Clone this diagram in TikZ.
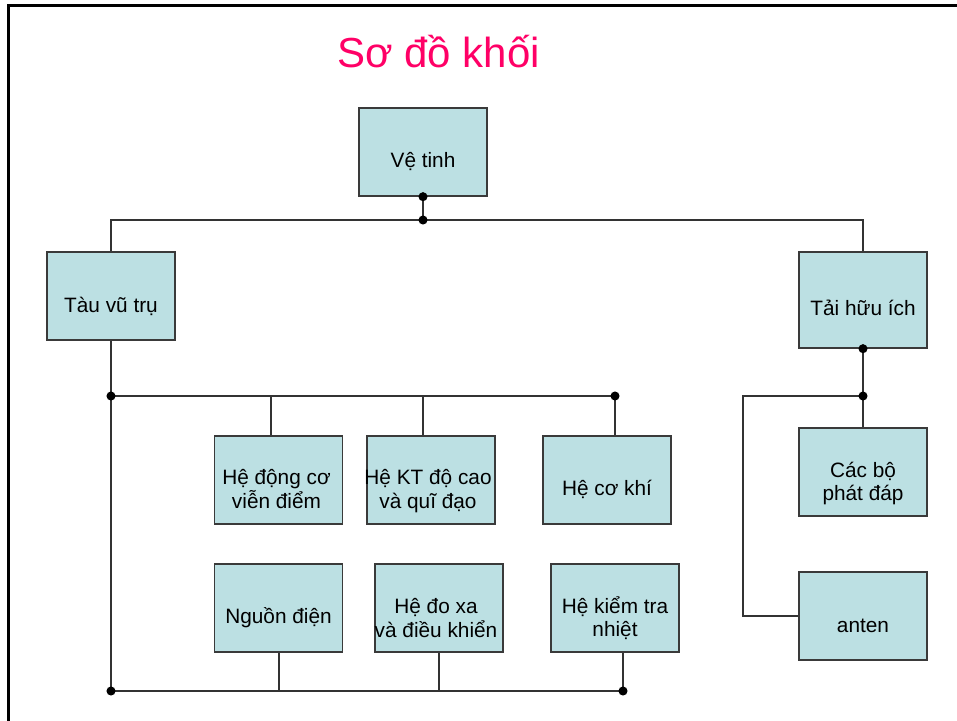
\documentclass[tikz,border=0pt]{standalone}
\usepackage{fontspec}
\setmainfont{Liberation Sans}
\usetikzlibrary{calc}
\definecolor{boxfill}{HTML}{BCE0E3}
\definecolor{boxline}{HTML}{3A3A3A}
\definecolor{titlecol}{HTML}{FF0066}
\definecolor{wirecol}{HTML}{333333}
\begin{document}
\begin{tikzpicture}[x=0.75pt,y=-0.75pt,
  blk/.style={draw=boxline, line width=1pt, fill=boxfill, minimum width=96pt, minimum height=66pt, inner sep=0pt},
  blktall/.style={blk, minimum height=72pt},
  lbl/.style={font=\fontsize{15.6}{19}\selectfont, anchor=base, inner sep=0pt},
  wire/.style={draw=wirecol, line width=0.8pt},
  dot/.style={circle, fill=black, inner sep=0pt, minimum size=6.8pt}]
\useasboundingbox (0,0) rectangle (957,721);
\draw[line width=1.9pt] (8.5,740) -- (8.5,5.5) -- (980,5.5);

% title
\node[font=\fontsize{31.5}{36}\selectfont, text=titlecol, anchor=base, inner sep=0pt] (title) at (438.5,67) {Sơ đồ khối};

% boxes
\node[blk] (vt) at (423,152) {};
\node[blk] (tau) at (111,296) {};
\node[blktall] (tai) at (863,300) {};
\node[blk] (dc) at (278.5,480) {};
\node[blk] (kt) at (431,480) {};
\node[blk] (ck) at (607,480) {};
\node[blk] (ng) at (278.5,608) {};
\node[blk] (dx) at (439,608) {};
\node[blk] (kn) at (615,608) {};
\node[blk] (cb) at (863,472) {};
\node[blk] (an) at (863,616) {};

% labels
\node[lbl] (vtl) at ($(vt.center)+(0,15)$) {Vệ tinh};
\node[lbl] (taul) at ($(tau.center)+(0,16)$) {Tàu vũ trụ};
\node[lbl] (tail) at ($(tai.center)+(0,15)$) {Tải hữu ích};
\node[lbl] (dcl1) at ($(dc.center)+(-2,4)$) {Hệ động cơ};
\node[lbl] (dcl2) at ($(dc.center)+(-2,28)$) {viễn điểm};
\node[lbl] (ktl1) at ($(kt.center)+(-3,4)$) {Hệ KT độ cao};
\node[lbl] (ktl2) at ($(kt.center)+(-3,28)$) {và quĩ đạo};
\node[lbl] (ckl) at ($(ck.center)+(0,15)$) {Hệ cơ khí};
\node[lbl] (ngl) at ($(ng.center)+(0,15)$) {Nguồn điện};
\node[lbl] (dxl1) at ($(dx.center)+(-3,5)$) {Hệ đo xa};
\node[lbl] (dxl2) at ($(dx.center)+(-3,29)$) {và điều khiển};
\node[lbl] (knl1) at ($(kn.center)+(0,5)$) {Hệ kiểm tra};
\node[lbl] (knl2) at ($(kn.center)+(0,28)$) {nhiệt};
\node[lbl] (cbl1) at ($(cb.center)+(0,5)$) {Các bộ};
\node[lbl] (cbl2) at ($(cb.center)+(0,28)$) {phát đáp};
\node[lbl] (anl) at ($(an.center)+(0,16)$) {anten};

% junction coordinates
\coordinate (j0) at (423,220);
\coordinate (b1) at (111,396);
\coordinate (b2) at (615,396);
\coordinate (t1) at (271,396);
\coordinate (t2) at (423,396);
\coordinate (c1) at (111,691);
\coordinate (c2) at (623,691);
\coordinate (u1) at (279,691);
\coordinate (u2) at (439,691);
\coordinate (e1) at (863,396);
\coordinate (e2) at (743,396);

% wires
\draw[wire] (vt.south) -- (j0);
\draw[wire] (tau.north) |- (j0) -| (tai.north);
\draw[wire] (tau.south) -- (b1) -- (b2);
\draw[wire] (b2) -- (b2 |- ck.north);
\draw[wire] (t1) -- (t1 |- dc.north);
\draw[wire] (t2) -- (t2 |- kt.north);
\draw[wire] (b1) -- (c1) -- (c2);
\draw[wire] (u1) -- (u1 |- ng.south);
\draw[wire] (u2) -- (u2 |- dx.south);
\draw[wire] (c2) -- (c2 |- kn.south);
\draw[wire] (tai.south) -- (e1) -- (cb.north);
\draw[wire] (e1) -- (e2) |- (an.west);

% dots
\node[dot] (dt1) at (vt.south) {};
\node[dot] (dt2) at (j0) {};
\node[dot] (dt3) at (b1) {};
\node[dot] (dt4) at (b2) {};
\node[dot] (dt5) at (c1) {};
\node[dot] (dt6) at (c2) {};
\node[dot] (dt7) at (tai.south) {};
\node[dot] (dt8) at (e1) {};
\end{tikzpicture}
\end{document}
